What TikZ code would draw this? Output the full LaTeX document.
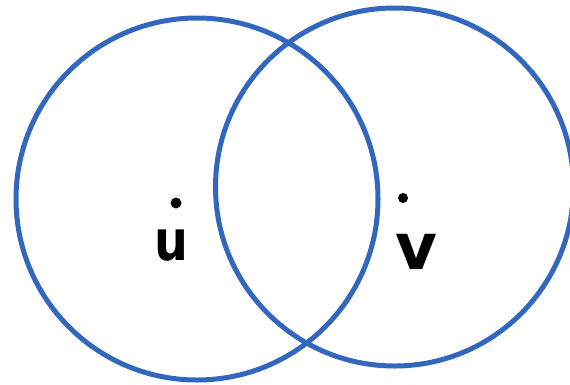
\documentclass[tikz,border=0pt]{standalone}
\usepackage{fontspec}
\newfontfamily\handfont{DejaVu Sans}
\definecolor{ringblue}{RGB}{50,103,190}
\begin{document}
\begin{tikzpicture}[x=1pt,y=-1pt,
  ring/.style={draw=ringblue,line width=5pt},
  letter/.style={inner sep=0pt,font=\handfont\bfseries\fontsize{56}{56}\selectfont,text=black}]
\useasboundingbox (0,0) rectangle (570,384);
\draw[ring] (197,199) circle[radius=181pt];
\draw[ring] (394.5,187) circle[radius=179pt];
\node[letter,xscale=0.85] (u) at (171.5,246) {u};
\node[letter,scale=1.15] (v) at (416,252) {v};
\fill (176,203) circle[radius=5.5pt];
\fill (403,198) circle[radius=5pt];
\end{tikzpicture}
\end{document}
